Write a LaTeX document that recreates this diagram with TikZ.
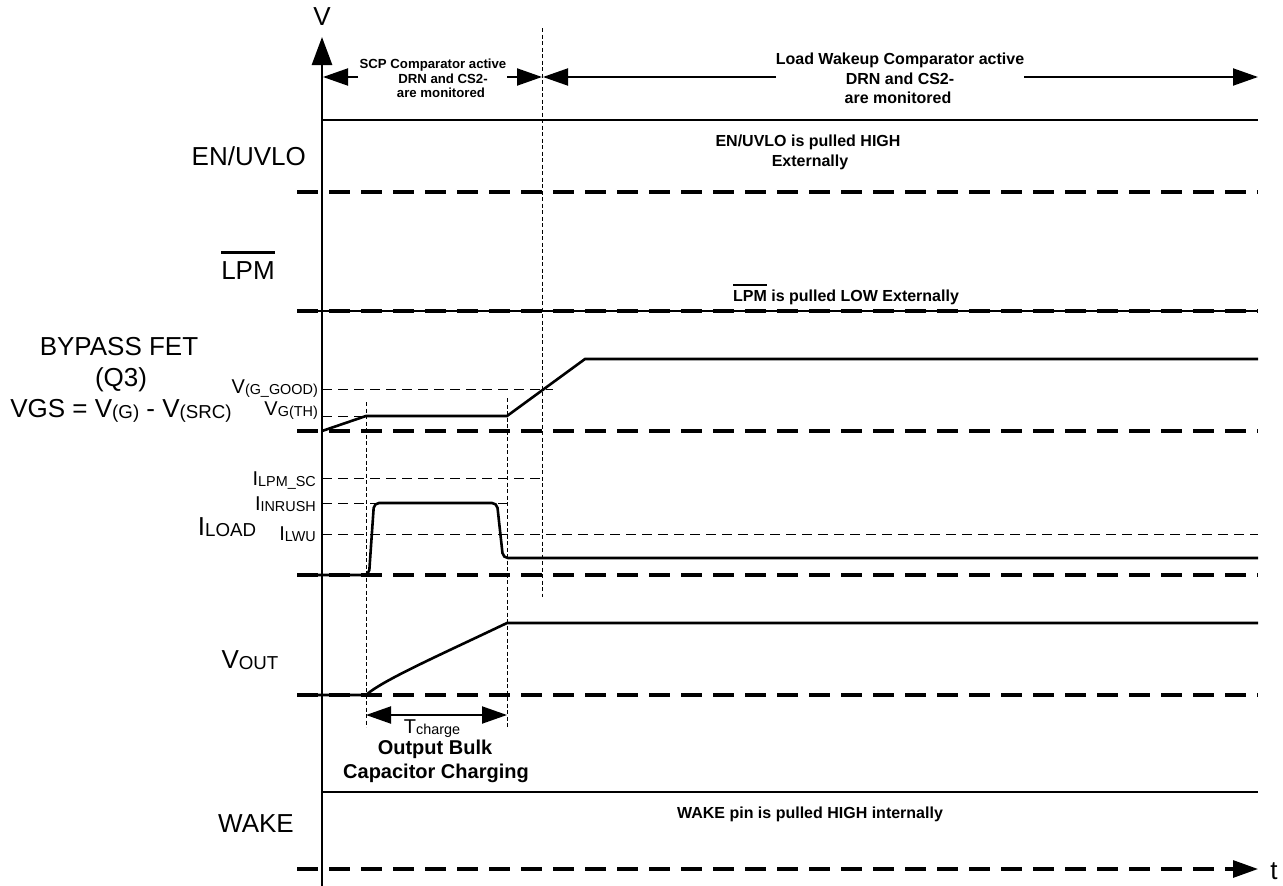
\documentclass[tikz,border=0pt]{standalone}
\usepackage{fontspec}
\setmainfont{Liberation Sans}
\usepackage{graphicx}
\usetikzlibrary{arrows.meta}
\newcommand\sbx[1]{\raisebox{-0.07em}{\scalebox{0.72}{#1}}}
\newcommand\ovl[1]{\setbox0\hbox{#1}\rlap{\rule[0.96em]{\wd0}{0.1em}}\box0\relax}
\newcommand\fsz[1]{\fontsize{#1}{#1}\selectfont}
\begin{document}
\begin{tikzpicture}[x=1pt,y=-1pt,
  sig/.style={line width=2.6pt},
  hi/.style={line width=2.5pt},
  basel/.style={line width=3.3pt, dash pattern=on 21pt off 11pt},
  thind/.style={line width=1pt, dash pattern=on 10pt off 6pt},
  vthin/.style={line width=0.9pt, dash pattern=on 4pt off 2.5pt},
  tipA/.style={-{Triangle[length=25pt,width=17pt]}},
  tipB/.style={{Triangle[length=25pt,width=17pt]}-{Triangle[length=25pt,width=17pt]}},
  biglab/.style={inner sep=0pt, font=\fsz{26}},
  midlab/.style={inner sep=0pt, font=\fsz{20}},
  note/.style={inner sep=0pt, font=\fsz{16}\bfseries},
  snote/.style={inner sep=0pt, font=\fsz{13.2}\bfseries},
  cnote/.style={inner sep=0pt, font=\fsz{20}\bfseries}]
\useasboundingbox (0,0) rectangle (1283,886);
\fill[white] (0,0) rectangle (1283,886);

% thin dashed reference lines
\draw[vthin] (366,402) -- (366,727);
\draw[vthin] (507,398) -- (507,727);
\draw[vthin] (542,28) -- (542,597);
\draw[thind] (322,389) -- (553,389);
\draw[thind] (322,416) -- (366,416);
\draw[thind] (322,478) -- (542,478);
\draw[thind] (322,503) -- (507,503);
\draw[thind] (322,534) -- (1258,534);

% baselines
\draw[basel] (297,192) -- (1258,192);
\draw[basel] (297,311) -- (1258,311);
\draw[basel] (297,431) -- (1258,431);
\draw[basel] (297,575) -- (1258,575);
\draw[basel] (297,695) -- (1258,695);
\draw[basel] (297,869) -- (1236,869);
\coordinate (tA) at (1230,869);
\coordinate (tB) at (1258,869);
\draw[line width=3pt, -{Triangle[length=25pt,width=17pt]}] (tA) -- (tB);

% vertical axis
\coordinate (vA) at (322,886);
\coordinate (vB) at (322,37);
\draw[line width=2.8pt, -{Triangle[length=28pt,width=20pt]}] (vA) -- (vB);

% signals
\draw[hi] (322,120) -- (1258,120);
\draw[hi] (297,311) -- (1258,311);
\draw[sig] (322,431) -- (366,416) -- (507,416) -- (585,359) -- (1258,359);
\draw[sig, rounded corners=5pt] (297,575) -- (369,575) -- (374,503) -- (497,503) -- (503,558) -- (1258,558);
\draw[sig] (297,695) -- (366,695) .. controls (383,680) and (440,655) .. (507,623) -- (1258,623);
\draw[hi] (322,792) -- (1258,792);

% top annotation arrows
\coordinate (a1) at (358,77); \coordinate (a1t) at (323,77);
\coordinate (a2) at (507,77); \coordinate (a2t) at (542,77);
\coordinate (a3) at (776,77); \coordinate (a3t) at (543,77);
\coordinate (a4) at (1024,77); \coordinate (a4t) at (1258,77);
\draw[line width=2pt, tipA] (a1) -- (a1t);
\draw[line width=2pt, tipA] (a2) -- (a2t);
\draw[line width=2pt, tipA] (a3) -- (a3t);
\draw[line width=2pt, tipA] (a4) -- (a4t);

% Tcharge arrow
\coordinate (c1) at (366,715); \coordinate (c2) at (507,715);
\draw[line width=2pt, tipB] (c1) -- (c2);

% axis labels
\node[biglab] (lv) at (322,17) {V};
\node[biglab, anchor=base] (lt) at (1274,879) {t};

% left labels
\node[biglab, anchor=base east] (len) at (306,165) {EN/UVLO};
\node[biglab, anchor=base] (llpm) at (248,279) {\ovl{LPM}};
\node[biglab, anchor=base] (lby1) at (119,355) {BYPASS FET};
\node[biglab, anchor=base] (lby2) at (121,386) {(Q3)};
\node[biglab, anchor=base] (lby3) at (121,417) {VGS = V\sbx{(G)} - V\sbx{(SRC)}};
\node[biglab, anchor=base] (lil) at (227,535) {I\sbx{LOAD}};
\node[biglab, anchor=base] (lvo) at (250,668) {V\sbx{OUT}};
\node[biglab, anchor=base] (lwk) at (256,832) {WAKE};

\node[midlab, anchor=base east] (lgg) at (318,393) {V\sbx{(G\_GOOD)}};
\node[midlab, anchor=base east] (lgt) at (318,415) {V\sbx{G(TH)}};
\node[midlab, anchor=base east] (lsc) at (316,485) {I\sbx{LPM\_SC}};
\node[midlab, anchor=base east] (lin) at (316,510) {I\sbx{INRUSH}};
\node[midlab, anchor=base east] (llw) at (316,540) {I\sbx{LWU}};
\node[midlab, anchor=base] (ltc) at (432,733) {T\sbx{charge}};

% notes
\node[snote, anchor=base] (s1) at (433,68) {SCP Comparator active};
\node[snote, anchor=base] (s2) at (443,83) {DRN and CS2-};
\node[snote, anchor=base] (s3) at (441,97) {are monitored};

\node[note, anchor=base] (w1) at (900,64) {Load Wakeup Comparator active};
\node[note, anchor=base] (w2) at (900,84) {DRN and CS2-};
\node[note, anchor=base] (w3) at (898,103) {are monitored};

\node[note, anchor=base] (e1) at (808,146) {EN/UVLO is pulled HIGH};
\node[note, anchor=base] (e2) at (810,166) {Externally};

\node[note, anchor=base] (p1) at (846,301) {\ovl{LPM} is pulled LOW Externally};
\node[note, anchor=base] (k1) at (810,818) {WAKE pin is pulled HIGH internally};

\node[cnote, anchor=base] (o1) at (435,754) {Output Bulk};
\node[cnote, anchor=base] (o2) at (436,778) {Capacitor Charging};
\end{tikzpicture}
\end{document}
